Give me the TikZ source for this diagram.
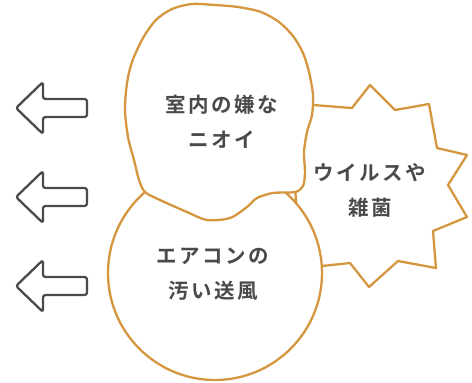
\documentclass[tikz,border=0pt]{standalone}
\usepackage{fontspec}
\newfontfamily\jp{Noto Sans CJK JP}[BoldFont={Noto Sans CJK JP Bold}, LetterSpace=12]
\definecolor{edge}{HTML}{D4963E}
\definecolor{ink}{HTML}{4A4A4A}
\begin{document}
\begin{tikzpicture}[x=1pt,y=-1pt,
  shapeline/.style={draw=edge, line width=2.3pt, fill=white, line join=round},
  arrowshape/.style={draw=ink, line width=2.3pt, fill=white, rounded corners=2.5pt, line join=round},
  label/.style={text=ink, font=\jp\bfseries\fontsize{20.5}{35}\selectfont, align=center, inner sep=0pt}]
\useasboundingbox (0,0) rectangle (472,383);
% arrows
\foreach \y/\n in {108/a1,197/a2,286/a3}{
  \draw[arrowshape] (16,\y) -- (43,\y-26) -- (43,\y-9) -- (87,\y-9) -- (87,\y+9) -- (43,\y+9) -- (43,\y+26) -- cycle;
}
% starburst
\draw[shapeline] (290,105) -- (313,105) -- (352,108) -- (370,85) -- (395,110) -- (429,104) -- (437,148) -- (467,155) -- (448,185) -- (467,217) -- (433,231) -- (436,268) -- (398,261) -- (369,287) -- (350,263) -- (322,266) -- (300,266) -- cycle;
% circle
\draw[shapeline] (215,273) circle[radius=107];
% blob
\draw[shapeline] plot[smooth cycle, tension=0.5] coordinates {
 (192,4) (215,5) (238,7) (261,12) (279,22) (293,36) (303,53) (309,72) (313,95) (312,115) (307,132) (304,152) (305,172) (303,186) (295,192)
 (273,193) (257,198) (247,207) (230,218) (207,220) (187,212) (160,200) (145,192) (139,180) (134,160) (128,137) (125,110) (127,83) (132,62) (143,38) (156,20) (172,9)};
% texts
\node[label] (smell) at (222,122) {室内の嫌な\\ニオイ};
\node[label] (virus) at (370,190) {ウイルスや\\雑菌};
\node[label] (aircon) at (213,274) {エアコンの\\汚い送風};
\end{tikzpicture}
\end{document}
